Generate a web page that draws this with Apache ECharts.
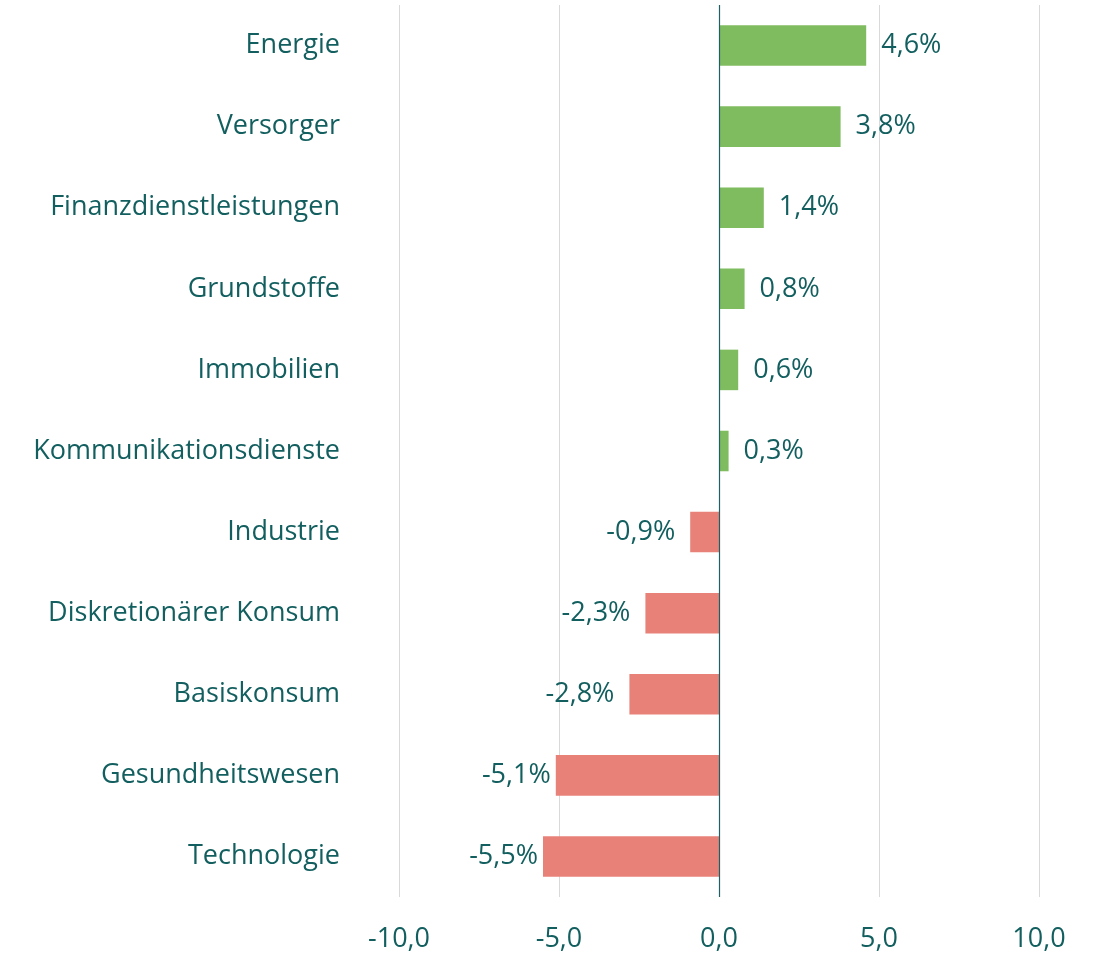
<!DOCTYPE html>
<html>
<head>
<meta charset="utf-8">
<script src="https://cdn.jsdelivr.net/npm/echarts@6/dist/echarts.min.js"></script>
<style>
  html, body { margin: 0; padding: 0; background: #fff; }
  #main { width: 1097px; height: 956px; }
</style>
</head>
<body>
<div id="main"></div>
<script>
// Sektoren von oben nach unten
const sectors = ['Energie', 'Versorger', 'Finanzdienstleistungen', 'Grundstoffe', 'Immobilien',
  'Kommunikationsdienste', 'Industrie', 'Diskretionärer Konsum', 'Basiskonsum',
  'Gesundheitswesen', 'Technologie'];
const changes = [4.6, 3.8, 1.4, 0.8, 0.6, 0.3, -0.9, -2.3, -2.8, -5.1, -5.5];
const xTicks = [-10, -5, 0, 5, 10];

const textColor = '#135f5f';
const fontName = '"Open Sans", sans-serif';
const fontSize = 27;

const chart = echarts.init(document.getElementById('main'));
const fmt = v => v.toFixed(1).replace('.', ',');

const option = {
  animation: false,
  grid: { left: 399, right: 58, top: 5, bottom: 59, containLabel: false },
  xAxis: {
    type: 'value',
    min: xTicks[0],
    max: xTicks[xTicks.length - 1],
    interval: 5,
    axisLine: { show: false },
    axisTick: { show: false },
    splitLine: { lineStyle: { color: '#d9d9d9', width: 1 } },
    axisLabel: {
      color: textColor, fontSize: fontSize, fontFamily: fontName, margin: 29,
      formatter: v => fmt(v)
    }
  },
  yAxis: {
    type: 'category',
    data: sectors,
    inverse: true,
    axisLine: { show: false },
    axisTick: { show: false },
    axisLabel: { color: textColor, fontSize: fontSize, fontFamily: fontName, margin: 59 }
  },
  series: [{
    type: 'bar',
    barWidth: '50%',
    data: changes.map(v => ({
      value: v,
      itemStyle: { color: v >= 0 ? '#7fbc5f' : '#e88278' },
      // lange negative Balken: Beschriftung rückt näher an den Balken
      label: { position: v >= 0 ? 'right' : 'left', distance: v < -5 ? 5 : 15 }
    })),
    label: {
      show: true,
      color: textColor,
      fontSize: fontSize,
      fontFamily: fontName,
      formatter: p => fmt(p.value) + '%'
    },
    markLine: {
      silent: true,
      symbol: 'none',
      label: { show: false },
      lineStyle: { color: '#1f5f66', width: 1.2, type: 'solid' },
      data: [{ xAxis: 0 }]
    }
  }]
};
chart.setOption(option);
window.onresize = function () { chart.resize(); };
</script>
</body>
</html>
